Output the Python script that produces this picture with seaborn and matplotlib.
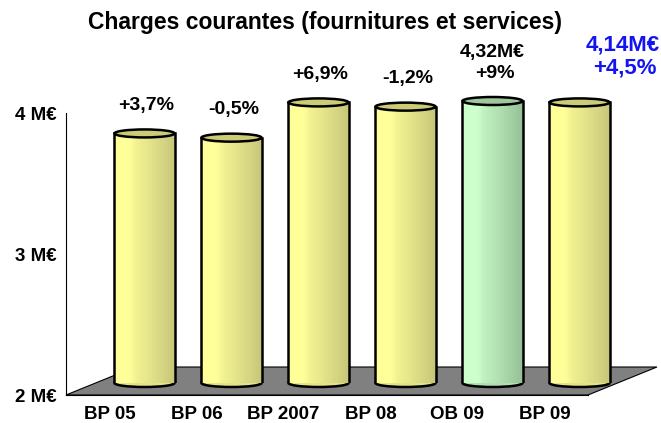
import matplotlib
matplotlib.use("Agg")
import matplotlib.pyplot as plt
from matplotlib.patches import Ellipse, Polygon
import numpy as np
import seaborn as sns

# données (M€)
categories = ["BP 05", "BP 06", "BP 2007", "BP 08", "OB 09", "BP 09"]
values = [3.77, 3.74, 3.99, 3.96, 4.00, 3.99]
pct_labels = ["+3,7%", "-0,5%", "+6,9%", "-1,2%", "+9%", "+4,5%"]
amount_labels = {"OB 09": "4,32M€", "BP 09": "4,14M€"}
yticks = [2, 3, 4]
ytick_labels = ["2 M€", "3 M€", "4 M€"]

sns.set_style("white")
plt.rcParams["font.family"] = ["Liberation Sans", "DejaVu Sans"]
plt.rcParams["font.weight"] = "bold"
plt.rcParams["text.color"] = "black"
plt.rcParams["xtick.color"] = "black"
plt.rcParams["ytick.color"] = "black"

W, H = 661, 423
fig = plt.figure(figsize=(W / 100, H / 100), dpi=100)

# repère principal : axe des y 2..4 M€, plancher gris
x0, y0, aw, ah = 66, 28, 522, 367
ymin, ymax = 2, 2 + ah / 141
ax = fig.add_axes([x0 / W, y0 / H, aw / W, ah / H])
ax.set_xlim(-0.5, len(categories) - 0.5)
ax.set_ylim(ymin, ymax)

# profondeur 3D en pixels
depth = (69, 28)
px_x = aw / len(categories)
px_y = ah / (ymax - ymin)
ddx, ddy = depth[0] / px_x, depth[1] / px_y
floor = Polygon([(-0.5, ymin), (len(categories) - 0.5, ymin),
                 (len(categories) - 0.5 + ddx, ymin + ddy), (-0.5 + ddx, ymin + ddy)],
                closed=True, facecolor="#808080", edgecolor="black", lw=0.8,
                clip_on=False, zorder=1)
ax.add_patch(floor)

for s in ["top", "right"]:
    ax.spines[s].set_visible(False)
ax.spines["left"].set_bounds(2, 4)
ax.spines["left"].set_color("black")
ax.spines["bottom"].set_color("black")
ax.spines["left"].set_zorder(5)
ax.spines["bottom"].set_zorder(5)
ax.set_yticks(yticks)
ax.set_yticklabels(ytick_labels, fontsize=13.5, fontweight="bold")
ax.set_xticks(range(len(categories)))
ax.set_xticklabels(categories, fontsize=13.5, fontweight="bold")
ax.set_xticks(np.arange(0.5, len(categories)), minor=True)
ax.tick_params(axis="x", which="major", length=0, pad=8)
ax.tick_params(axis="x", which="minor", length=4.5, width=1, color="black", direction="out")
ax.tick_params(axis="y", length=5, width=1, color="black", direction="out", pad=1.5)
ax.set_facecolor("none")

# repère des cylindres, décalé à mi-profondeur
shift = (35, 12)
ax2 = fig.add_axes([(x0 + shift[0]) / W, (y0 + shift[1]) / H, aw / W, ah / H])
light = {"base": "#FFFF99", "alt": "#CCFFCC"}
dark = {"base": "#C6C67A", "alt": "#96C096"}
top_col = {"base": "#CCCC77", "alt": "#9DC89D"}
kind = ["alt" if c == "OB 09" else "base" for c in categories]

sns.barplot(x=categories, y=values, hue=categories, palette=[light[k] for k in kind],
            width=0.69, legend=False, ax=ax2)
ax2.set_xlim(-0.5, len(categories) - 0.5)
ax2.set_ylim(ymin, ymax)

eh = 8 / px_y
t = np.linspace(0, 1, 80)
w_t = np.clip(t ** 1.4 - 0.25 * np.exp(-((t - 0.18) / 0.12) ** 2), 0, 1)

for patch, k, cat, pct in zip(ax2.patches, kind, categories, pct_labels):
    bx, bw, bh = patch.get_x(), patch.get_width(), patch.get_height()
    cx = bx + bw / 2
    c0 = np.array(matplotlib.colors.to_rgb(light[k]))
    c1 = np.array(matplotlib.colors.to_rgb(dark[k]))
    grad = (c0[None, :] * (1 - w_t[:, None]) + c1[None, :] * w_t[:, None])[None, :, :]
    ax2.imshow(grad, extent=[bx, bx + bw, ymin, bh], aspect="auto", zorder=2,
               interpolation="bilinear")
    patch.set_facecolor("none")
    patch.set_edgecolor("black")
    patch.set_linewidth(1.8)
    patch.set_zorder(3)
    # base arrondie
    bot = Ellipse((cx, ymin), bw, eh, facecolor=(c0 + c1) / 2, edgecolor="black",
                  lw=1.8, clip_on=False, zorder=1.5)
    ax2.add_patch(bot)
    # couvercle
    top = Ellipse((cx, bh), bw, eh, facecolor=top_col[k], edgecolor="black",
                  lw=1.8, zorder=4)
    ax2.add_patch(top)

    if cat == "BP 09":
        ax2.annotate(amount_labels[cat], xy=(cx, bh), xytext=(43, 57),
                     textcoords="offset pixels", ha="center", va="center",
                     fontsize=16, fontweight="bold", color="#1414F0")
        ax2.annotate(pct, xy=(cx, bh), xytext=(45, 34),
                     textcoords="offset pixels", ha="center", va="center",
                     fontsize=16, fontweight="bold", color="#1414F0")
    else:
        ax2.annotate(pct, xy=(cx, bh), xytext=(2, 28),
                     textcoords="offset pixels", ha="center", va="center",
                     fontsize=14, fontweight="bold", color="black")
        if cat in amount_labels:
            ax2.annotate(amount_labels[cat], xy=(cx, bh), xytext=(0, 49),
                         textcoords="offset pixels", ha="center", va="center",
                         fontsize=14, fontweight="bold", color="black")

ax2.set_xlim(-0.5, len(categories) - 0.5)
ax2.set_ylim(ymin, ymax)
ax2.set_axis_off()

fig.text(325 / W, 1 - 22 / H, "Charges courantes (fournitures et services)",
         ha="center", va="center", fontsize=16.5, fontweight="bold", color="black")

fig.savefig("out.png", dpi=100, facecolor="white")
